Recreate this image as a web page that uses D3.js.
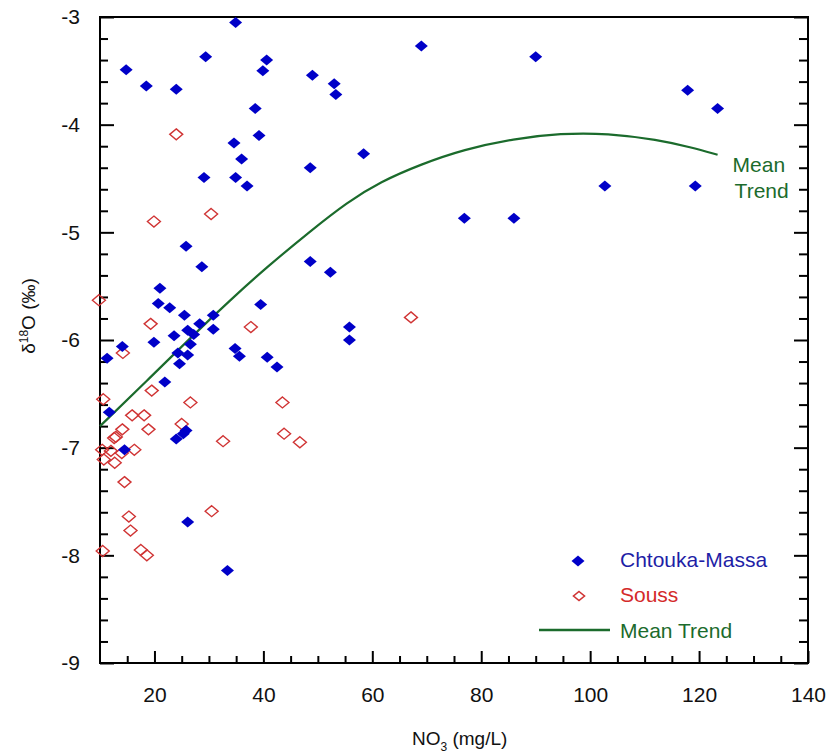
<!DOCTYPE html>
<html>
<head>
<meta charset="utf-8">
<script src="https://cdn.jsdelivr.net/npm/d3@7"></script>
<style>
  body { margin: 0; background: #fff; }
  svg { font-family: "Liberation Sans", Arial, sans-serif; }
</style>
</head>
<body>
<svg id="chart" width="830" height="755"></svg>
<script>
// Chtouka-Massa (filled blue diamonds)
const chtoukaX = [14.8, 18.5, 24.0, 29.4, 34.9, 40.6, 39.9, 38.5, 39.2, 34.6, 36.0, 29.1, 34.9, 37.0, 25.8,
                  49.0, 53.0, 53.3, 69.0, 90.0, 48.6, 58.4, 76.9, 86.0, 117.9, 123.4, 102.7, 119.3,
                  28.7, 21.0, 20.7, 22.8, 25.5, 30.8, 28.3, 30.8, 26.1, 27.2, 23.6, 19.9, 26.6, 24.3, 26.1, 24.6, 21.9,
                  14.1, 11.3, 11.7, 39.5, 48.6, 52.3, 55.8, 55.8, 34.8, 35.6, 40.7, 42.5,
                  25.8, 25.3, 24.0, 14.5, 26.1, 33.4];
const chtoukaY = [-3.49, -3.64, -3.67, -3.37, -3.05, -3.40, -3.50, -3.85, -4.10, -4.17, -4.32, -4.49, -4.49, -4.57, -5.13,
                  -3.54, -3.62, -3.72, -3.27, -3.37, -4.40, -4.27, -4.87, -4.87, -3.68, -3.85, -4.57, -4.57,
                  -5.32, -5.52, -5.66, -5.70, -5.77, -5.77, -5.85, -5.90, -5.91, -5.95, -5.96, -6.02, -6.04, -6.12, -6.14, -6.22, -6.39,
                  -6.06, -6.17, -6.67, -5.67, -5.27, -5.37, -5.88, -6.00, -6.08, -6.15, -6.16, -6.25,
                  -6.84, -6.87, -6.92, -7.02, -7.69, -8.14];

// Souss (open red diamonds)
const soussX = [9.8, 24.0, 19.9, 30.4, 19.3, 14.2, 37.7, 19.5, 10.6, 26.6, 43.5, 15.9, 18.1, 25.0, 14.1, 18.9,
                12.9, 12.6, 43.8, 46.7, 32.6, 10.4, 12.0, 16.3, 14.0, 10.7, 12.7, 14.5, 15.3, 15.6, 10.5, 17.5, 18.6, 30.5, 67.1];
const soussY = [-5.63, -4.09, -4.90, -4.83, -5.85, -6.12, -5.88, -6.47, -6.55, -6.58, -6.58, -6.70, -6.70, -6.78, -6.83, -6.83,
                -6.90, -6.91, -6.87, -6.95, -6.94, -7.02, -7.03, -7.02, -7.05, -7.11, -7.14, -7.32, -7.64, -7.77, -7.96, -7.95, -8.00, -7.59, -5.79];

// Mean trend curve
const trendX = [10, 18.6, 27.2, 33.9, 40.7, 48.6, 55.4, 61.5, 68.8, 76.8, 86.0, 94.6, 103.2, 112.4, 118.5, 123.4];
const trendY = [-6.80, -6.38, -5.95, -5.63, -5.32, -4.99, -4.72, -4.53, -4.37, -4.23, -4.13, -4.08, -4.08, -4.14, -4.21, -4.28];

const xTicks = [20, 40, 60, 80, 100, 120, 140];
const yTicks = [-3, -4, -5, -6, -7, -8, -9];

const svg = d3.select("#chart");
const margin = {left: 100, top: 17, right: 22, bottom: 92};
const width = 830 - margin.left - margin.right;
const height = 755 - margin.top - margin.bottom;

const x = d3.scaleLinear().domain([10, 140]).range([0, width]);
const y = d3.scaleLinear().domain([-9, -3]).range([height, 0]);

const g = svg.append("g").attr("transform", "translate(" + margin.left + "," + margin.top + ")");

const xMinor = d3.range(15, 140, 5).filter(function(d) { return d % 20 != 0; });
const yMinor = d3.range(-9, -3.001, 0.2).map(function(d) { return Math.round(d * 10) / 10; })
                 .filter(function(d) { return d % 1 != 0; });

function styleAxis(sel) {
    sel.select(".domain").remove();
    sel.selectAll("line").attr("stroke", "#000").attr("stroke-width", 2);
    sel.selectAll("text").attr("fill", "#111").style("font-size", "21px").attr("font-family", "Liberation Sans, Arial, sans-serif");
}

// left axis
g.append("g").call(d3.axisLeft(y).tickValues(yTicks).tickSize(-14).tickPadding(20)
    .tickFormat(function(d) { return String(d); })).call(styleAxis);
g.append("g").call(d3.axisLeft(y).tickValues(yMinor).tickSize(-8).tickFormat("")).call(styleAxis);
// right axis
g.append("g").attr("transform", "translate(" + width + ",0)")
    .call(d3.axisRight(y).tickValues(yTicks).tickSize(-14).tickFormat("")).call(styleAxis);
g.append("g").attr("transform", "translate(" + width + ",0)")
    .call(d3.axisRight(y).tickValues(yMinor).tickSize(-9).tickFormat("")).call(styleAxis);
// bottom axis
g.append("g").attr("transform", "translate(0," + height + ")")
    .call(d3.axisBottom(x).tickValues(xTicks).tickSize(-12).tickPadding(24)).call(styleAxis);
g.append("g").attr("transform", "translate(0," + height + ")")
    .call(d3.axisBottom(x).tickValues(xMinor).tickSize(-7).tickFormat("")).call(styleAxis);

// frame
g.append("rect")
    .attr("x", 0).attr("y", 0)
    .attr("width", width).attr("height", height)
    .attr("fill", "none")
    .attr("stroke", "#000")
    .attr("stroke-width", 2);

// trend line
const trendData = trendX.map(function(d, i) { return [d, trendY[i]]; });
const line = d3.line()
    .x(function(d) { return x(d[0]); })
    .y(function(d) { return y(d[1]); })
    .curve(d3.curveBasis);
g.append("path")
    .datum(trendData)
    .attr("d", line)
    .attr("fill", "none")
    .attr("stroke", "#1b6b2c")
    .attr("stroke-width", 2.2);

g.append("text").attr("x", x(123.4) + 15).attr("y", y(-4.28) + 17)
    .attr("fill", "#1b6b2c").style("font-size", "21px").text("Mean");
g.append("text").attr("x", x(123.4) + 17).attr("y", y(-4.28) + 43)
    .attr("fill", "#1b6b2c").style("font-size", "21px").text("Trend");

const diamond = "M0,-5.5L6.5,0L0,5.5L-6.5,0Z";

// Souss
g.selectAll(".souss")
    .data(soussX)
    .enter()
    .append("path")
    .attr("class", "souss")
    .attr("d", diamond)
    .attr("transform", function(d, i) { return "translate(" + x(d) + "," + y(soussY[i]) + ")"; })
    .attr("fill", "none")
    .attr("stroke", "#d03434")
    .attr("stroke-width", 1.4);

// Chtouka-Massa
g.selectAll(".chtouka")
    .data(chtoukaX)
    .enter()
    .append("path")
    .attr("class", "chtouka")
    .attr("d", diamond)
    .attr("transform", function(d, i) { return "translate(" + x(d) + "," + y(chtoukaY[i]) + ")"; })
    .attr("fill", "#0000c8");

// legend
const legend = svg.append("g");
legend.append("path").attr("d", diamond).attr("transform", "translate(578,561)").attr("fill", "#0000c8");
legend.append("text").attr("x", 620).attr("y", 567).attr("fill", "#1e1ea6").style("font-size", "21px").text("Chtouka-Massa");
legend.append("path").attr("d", "M0,-4.5L5.5,0L0,4.5L-5.5,0Z").attr("transform", "translate(579,596)")
    .attr("fill", "none").attr("stroke", "#d03434").attr("stroke-width", 1.6);
legend.append("text").attr("x", 620).attr("y", 602).attr("fill", "#d42a2a").style("font-size", "21px").text("Souss");
legend.append("line").attr("x1", 539).attr("x2", 610).attr("y1", 630).attr("y2", 630)
    .attr("stroke", "#1b6b2c").attr("stroke-width", 2.5);
legend.append("text").attr("x", 620).attr("y", 638).attr("fill", "#1b6b2c").style("font-size", "21px").text("Mean Trend");

// axis titles
const xTitle = svg.append("text")
    .attr("x", 412).attr("y", 745)
    .attr("fill", "#111").style("font-size", "19px");
xTitle.append("tspan").text("NO");
xTitle.append("tspan").attr("dy", 6).style("font-size", "12px").text("3");
xTitle.append("tspan").attr("dy", -6).text(" (mg/L)");

const yTitle = svg.append("text")
    .attr("transform", "translate(35,316) rotate(-90)")
    .attr("text-anchor", "middle")
    .attr("fill", "#111").style("font-size", "19px");
yTitle.append("tspan").text("δ");
yTitle.append("tspan").attr("dy", -7).style("font-size", "12px").text("18");
yTitle.append("tspan").attr("dy", 7).text("O (‰)");
</script>
</body>
</html>
